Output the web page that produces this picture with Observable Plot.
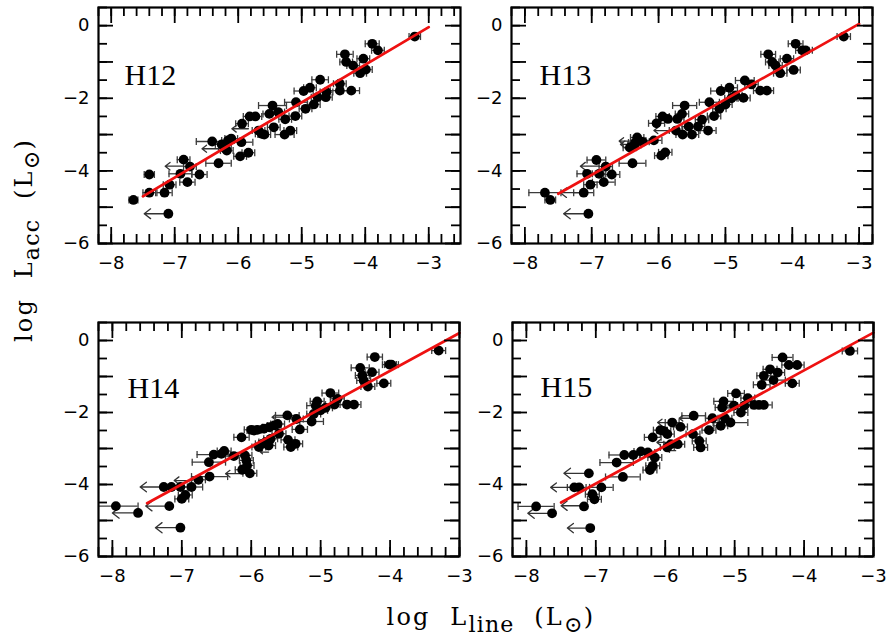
<!DOCTYPE html>
<html><head><meta charset="utf-8">
<script src="https://cdn.jsdelivr.net/npm/d3@7"></script>
<script src="https://cdn.jsdelivr.net/npm/@observablehq/plot@0.6"></script>
<style>
html,body{margin:0;padding:0;background:#fff;}
#wrap{position:relative;width:893px;height:637px;overflow:hidden;background:#fff;}
.panel{position:absolute;}
.ttl{position:absolute;font-family:'DejaVu Serif',serif;font-size:24px;white-space:pre;color:#000;letter-spacing:2.2px;line-height:1.5;padding:2px 4px;}
.ttl .sb{font-size:0.92em;position:relative;top:0.3em;letter-spacing:1.2px;}
</style></head><body><div id="wrap"></div>
<script>
// ---------- data ----------
const panelNames = ["H12", "H13", "H14", "H15"];
const fitX = [-7.5, -3];
const fitYH12 = [-4.70, -0.04];
const fitYH13 = [-4.63, 0.05];
const fitYH14 = [-4.52, 0.21];
const fitYH15 = [-4.50, 0.22];
const xTickLabels = [-8, -7, -6, -5, -4, -3];
const yTickLabels = [0, -2, -4, -6];
const yDomain = [-6, 0.5];
const xDomH12 = [-8.2, -2.5];
const xDomH13 = [-8.2, -2.8];
const xDomH14 = [-8.2, -3.0];
const xDomH15 = [-8.2, -3.0];

// H12: log Lline, log Lacc, x error (dex)
const h12X = [-7.65,-7.40,-7.40,-7.16,-7.08,-6.86,-6.91,-6.80,-6.76,-6.61,-6.41,-6.31,-6.26,-6.21,-6.16,-6.11,-6.18,-5.95,-5.97,-5.84,-5.94,-5.82,-5.73,-5.68,-5.63,-5.59,-5.46,-5.51,-5.44,-5.37,-5.26,-5.27,-5.18,-5.10,-5.09,-4.97,-4.94,-4.87,-4.81,-4.75,-4.71,-4.62,-4.61,-4.40,-4.40,-4.32,-4.30,-4.22,-4.19,-4.08,-4.03,-3.99,-3.89,-3.80,-3.22,-7.10];
const h12Y = [-4.80,-4.10,-4.60,-4.60,-4.38,-3.69,-4.08,-4.31,-3.88,-4.10,-3.19,-3.79,-3.27,-3.38,-3.16,-3.11,-3.44,-3.21,-3.60,-3.50,-2.70,-2.50,-2.50,-2.89,-2.98,-3.00,-2.20,-2.43,-2.80,-2.38,-2.58,-3.00,-2.89,-2.49,-2.11,-1.80,-2.29,-1.71,-2.17,-1.97,-1.49,-1.97,-1.83,-1.60,-1.79,-0.79,-1.00,-1.79,-1.10,-1.31,-0.91,-1.21,-0.50,-0.68,-0.30,-5.18];
const h12E = [0.07,0.08,0.10,0.12,0.10,0.10,0.18,0.12,0.10,0.12,0.25,0.20,0.10,0.10,0.10,0.10,0.10,0.18,0.10,0.10,0.10,0.10,0.10,0.10,0.10,0.10,0.22,0.10,0.10,0.10,0.10,0.15,0.10,0.10,0.18,0.15,0.10,0.10,0.10,0.10,0.13,0.10,0.10,0.10,0.15,0.13,0.10,0.13,0.10,0.10,0.10,0.10,0.11,0.10,0.09,0];
const h12LimX = [-7.10, -6.86, -6.30, -5.84];
const h12LimY = [-5.18, -3.87, -3.39, -2.84];
const h12LimLen = [0.38, 0.29, 0.27, 0.26];

// H13
const h13X = [-7.70,-7.62,-7.12,-7.05,-7.02,-6.93,-7.07,-6.89,-6.82,-6.79,-6.70,-6.39,-6.43,-6.35,-6.32,-6.24,-6.36,-6.07,-6.03,-5.96,-5.90,-5.94,-5.86,-5.72,-5.65,-5.61,-5.74,-5.64,-5.50,-5.55,-5.41,-5.35,-5.26,-5.24,-5.17,-5.09,-5.07,-4.94,-5.00,-4.91,-4.85,-4.71,-4.73,-4.61,-4.48,-4.38,-4.36,-4.30,-4.25,-4.18,-4.08,-3.98,-3.95,-3.85,-3.80,-3.23];
const h13Y = [-4.60,-4.80,-4.60,-5.18,-4.38,-3.70,-4.08,-4.08,-4.31,-3.88,-4.10,-3.79,-3.36,-3.22,-3.08,-3.20,-3.28,-3.16,-2.69,-3.58,-3.49,-2.50,-2.57,-2.57,-2.43,-2.20,-2.89,-3.00,-3.00,-2.78,-2.78,-2.59,-2.89,-2.11,-2.49,-2.29,-1.80,-1.71,-2.17,-2.00,-1.92,-1.51,-1.99,-1.62,-1.79,-1.79,-0.79,-1.00,-1.10,-1.31,-0.91,-1.22,-0.50,-0.68,-0.68,-0.30];
const h13E = [0.24,0.08,0.15,0,0.10,0.14,0.15,0.10,0.17,0.10,0.12,0.20,0.10,0.10,0.10,0.10,0.10,0.12,0.12,0.10,0.10,0.10,0.10,0.10,0.10,0.18,0.10,0.10,0.10,0.10,0.10,0.10,0.12,0.15,0.10,0.10,0.15,0.12,0.10,0.10,0.10,0.14,0.10,0.10,0.10,0.10,0.11,0.10,0.10,0.10,0.10,0.10,0.11,0.10,0.10,0.10];
const h13LimX = [-7.05, -7.12, -6.89, -6.34, -6.32, -5.85];
const h13LimY = [-5.18, -4.60, -3.87, -3.18, -3.27, -2.89];
const h13LimLen = [0.37, 0.35, 0.28, 0.25, 0.25, 0.22];

// H14
const h14X = [-7.95,-7.63,-7.18,-7.26,-7.02,-7.02,-7.15,-7.00,-6.95,-6.86,-6.76,-6.60,-6.61,-6.54,-6.43,-6.39,-6.25,-6.13,-6.09,-6.07,-6.06,-6.02,-6.14,-6.00,-5.96,-5.91,-5.82,-5.74,-5.67,-5.89,-5.84,-5.79,-5.75,-5.72,-5.62,-5.48,-5.60,-5.47,-5.43,-5.36,-5.35,-5.30,-5.13,-5.10,-5.05,-5.07,-5.00,-4.93,-4.86,-4.80,-4.76,-4.62,-4.52,-4.43,-4.40,-4.38,-4.32,-4.26,-4.22,-4.09,-4.01,-3.98,-3.30];
const h14Y = [-4.60,-4.79,-4.60,-4.07,-5.20,-4.07,-4.07,-4.40,-4.29,-4.07,-3.87,-3.78,-3.38,-3.17,-3.15,-3.07,-3.21,-3.59,-3.19,-3.33,-3.47,-3.69,-2.69,-2.48,-2.50,-2.48,-2.45,-2.41,-2.36,-2.96,-2.87,-2.82,-2.92,-2.73,-2.32,-2.08,-2.59,-2.76,-2.96,-2.87,-2.18,-2.47,-2.25,-2.04,-1.69,-1.81,-1.94,-1.87,-1.46,-1.78,-1.62,-1.78,-1.78,-0.76,-0.97,-1.11,-1.28,-0.88,-0.46,-1.19,-0.67,-0.67,-0.28];
const h14E = [0.32,0,0,0,0,0.10,0.10,0.10,0.10,0.16,0.10,0.26,0.24,0.24,0.10,0.10,0.12,0.10,0.10,0.10,0.10,0.10,0.11,0.10,0.10,0.10,0.10,0.10,0.10,0.10,0.10,0.10,0.10,0.10,0.10,0.17,0.10,0.10,0.10,0.10,0.10,0.11,0.17,0.10,0.10,0.13,0.10,0.10,0.12,0.13,0.10,0.10,0.10,0.13,0.10,0.10,0.10,0.10,0.11,0.10,0.10,0.10,0.10];
const h14LimX = [-7.63, -7.18, -7.26, -7.02, -6.85, -6.13, -5.55, -5.75];
const h14LimY = [-4.79, -4.60, -4.07, -5.20, -3.89, -3.70, -2.13, -3.10];
const h14LimLen = [0.37, 0.34, 0.34, 0.36, 0.26, 0.24, 0.15, 0.12];

// H15
const h15X = [-7.86,-7.63,-7.17,-7.08,-7.10,-7.31,-7.24,-7.05,-7.02,-6.92,-6.61,-6.70,-6.59,-6.46,-6.35,-6.22,-6.18,-6.15,-6.25,-6.18,-6.07,-6.02,-5.97,-5.97,-5.92,-5.82,-5.90,-5.78,-5.60,-5.59,-5.51,-5.49,-5.37,-5.32,-5.20,-5.14,-5.16,-5.18,-5.06,-5.01,-4.98,-4.91,-4.86,-4.81,-4.72,-4.65,-4.58,-4.61,-4.58,-4.49,-4.44,-4.38,-4.31,-4.22,-4.10,-4.17,-3.34];
const h15Y = [-4.61,-4.80,-4.61,-5.21,-3.69,-4.08,-4.08,-4.27,-4.41,-4.08,-3.79,-3.39,-3.18,-3.18,-3.08,-3.60,-3.48,-3.25,-3.11,-2.69,-2.49,-2.51,-2.60,-2.97,-2.88,-2.88,-2.28,-2.40,-2.60,-2.09,-2.79,-2.97,-2.49,-2.16,-2.37,-2.16,-1.69,-1.86,-2.28,-1.81,-1.47,-2.00,-1.81,-1.60,-1.79,-1.79,-1.79,-1.23,-0.98,-0.80,-1.10,-0.89,-0.47,-0.68,-0.68,-1.19,-0.29];
const h15E = [0.26,0,0,0,0,0.10,0.10,0.10,0.10,0.17,0.25,0.24,0.22,0.10,0.10,0.10,0.10,0.10,0.10,0.12,0.10,0.10,0.10,0.10,0.10,0.10,0.10,0.10,0.10,0.17,0.10,0.10,0.10,0.10,0.10,0.10,0.14,0.10,0.25,0.10,0.12,0.10,0.10,0.10,0.10,0.10,0.12,0.12,0.10,0.10,0.17,0.10,0.15,0.10,0.10,0.10,0.11];
const h15LimX = [-7.63, -7.17, -7.08, -7.10, -7.34, -5.87, -5.60, -5.92, -5.85];
const h15LimY = [-4.80, -4.59, -5.21, -3.69, -4.08, -2.28, -2.16, -2.83, -3.06];
const h15LimLen = [0.35, 0.33, 0.33, 0.36, 0.31, 0.24, 0.20, 0.20, 0.12];

// ---------- layout ----------
const layout = [
  {left: 0,   top: 0,   width: 470, height: 275, ml: 98, mr: 10, mt: 7,  mb: 32, dx: 26, dy: 56},
  {left: 470, top: 0,   width: 423, height: 275, ml: 41, mr: 21, mt: 7,  mb: 32, dx: 28, dy: 56},
  {left: 0,   top: 300, width: 470, height: 290, ml: 98, mr: 11, mt: 22, mb: 34, dx: 29, dy: 54},
  {left: 470, top: 300, width: 423, height: 290, ml: 42, mr: 20, mt: 22, mb: 34, dx: 28, dy: 53}
];

const panels = [
  {x: h12X, y: h12Y, e: h12E, limX: h12LimX, limY: h12LimY, limLen: h12LimLen, fit: fitYH12, xDom: xDomH12},
  {x: h13X, y: h13Y, e: h13E, limX: h13LimX, limY: h13LimY, limLen: h13LimLen, fit: fitYH13, xDom: xDomH13},
  {x: h14X, y: h14Y, e: h14E, limX: h14LimX, limY: h14LimY, limLen: h14LimLen, fit: fitYH14, xDom: xDomH14},
  {x: h15X, y: h15Y, e: h15E, limX: h15LimX, limY: h15LimY, limLen: h15LimLen, fit: fitYH15, xDom: xDomH15}
];

const capSymbol = {draw(ctx, size) { const h = Math.sqrt(size / Math.PI); ctx.moveTo(0, -h); ctx.lineTo(0, h); }};
const tickFont = "DejaVu Sans, sans-serif";
const errColor = "#3c3c3c";
const fmt = d3.format("d");
const within = (lo, hi) => v => v >= lo - 1e-9 && v <= hi + 1e-9;

function makePanel(p, L, name) {
  const pts = p.x.map((x, i) => ({x, y: p.y[i], e: p.e[i]}));
  const eb = pts.filter(d => d.e > 0);
  const caps = eb.flatMap(d => [{x: d.x - d.e, y: d.y}, {x: d.x + d.e, y: d.y}]);
  const lims = p.limX.map((x, i) => ({x, y: p.limY[i], xe: x - p.limLen[i]}));
  const fit = fitX.map((x, i) => ({x, y: p.fit[i]}));
  const [xa, xb] = p.xDom, [ya, yb] = yDomain;
  const inX = within(xa, xb), inY = within(ya, yb);
  const xLab = xTickLabels.filter(inX);
  const fw = L.width - L.ml - L.mr, fh = L.height - L.mt - L.mb;
  const kx = (xb - xa) / fw, ky = (yb - ya) / fh;   // data units per pixel
  // inward tick segments, built from tick values through the scales
  const xTickRows = [];
  [[d3.range(-45, -10).map(i => i / 5).filter(inX), 9], [d3.range(-9, -1).filter(inX), 16]].forEach(([vals, len]) => {
    vals.forEach(v => {
      xTickRows.push({x: v, y1: ya, y2: ya + len * ky});
      xTickRows.push({x: v, y1: yb, y2: yb - len * ky});
    });
  });
  const yTickRows = [];
  [[d3.range(-12, 2).map(i => i / 2).filter(inY), 9], [d3.range(-6, 1).filter(inY), 15]].forEach(([vals, len]) => {
    vals.forEach(v => {
      yTickRows.push({y: v, x1: xa, x2: xa + len * kx});
      yTickRows.push({y: v, x1: xb, x2: xb - len * kx});
    });
  });
  return Plot.plot({
    width: L.width, height: L.height,
    marginLeft: L.ml, marginRight: L.mr, marginTop: L.mt, marginBottom: L.mb,
    style: {background: "transparent", overflow: "visible"},
    x: {domain: p.xDom},
    y: {domain: yDomain},
    marks: [
      Plot.ruleY(eb, {y: "y", x1: d => d.x - d.e, x2: d => d.x + d.e, stroke: errColor, strokeWidth: 1.3, clip: true}),
      Plot.dot(caps, {x: "x", y: "y", symbol: capSymbol, r: 3.5, stroke: errColor, strokeWidth: 1.3, fill: "none", clip: true}),
      Plot.arrow(lims, {x1: "x", y1: "y", x2: "xe", y2: "y", stroke: "#333", strokeWidth: 1.3, headLength: 11, headAngle: 75}),
      Plot.dot(pts, {x: "x", y: "y", r: 4.9, fill: "black", stroke: "none"}),
      Plot.line(fit, {x: "x", y: "y", stroke: "#ee1111", strokeWidth: 2.7}),
      Plot.ruleX(xTickRows, {x: "x", y1: "y1", y2: "y2", stroke: "black", strokeWidth: 1.8}),
      Plot.ruleY(yTickRows, {y: "y", x1: "x1", x2: "x2", stroke: "black", strokeWidth: 1.8}),
      Plot.axisX({anchor: "bottom", ticks: xLab, tickSize: 0, tickPadding: 13, tickFormat: fmt, fontSize: 18, fontFamily: tickFont, fill: "black", label: null}),
      Plot.axisY({anchor: "left", ticks: yTickLabels, tickSize: 0, tickPadding: 9, tickFormat: fmt, fontSize: 18, fontFamily: tickFont, fill: "black", label: null}),
      Plot.frame({stroke: "black", strokeWidth: 2.2}),
      Plot.text([name], {text: d => d, frameAnchor: "top-left", dx: L.dx, dy: L.dy, textAnchor: "start", fontSize: 30, fontFamily: "Liberation Serif, serif", fill: "black"})
    ]
  });
}

const wrap = document.getElementById("wrap");
panels.forEach((p, i) => {
  const L = layout[i];
  const div = document.createElement("div");
  div.className = "panel";
  div.style.left = L.left + "px";
  div.style.top = L.top + "px";
  div.style.width = L.width + "px";
  div.style.height = L.height + "px";
  div.appendChild(makePanel(p, L, panelNames[i]));
  wrap.appendChild(div);
});

// axis titles
const xt = document.createElement("div");
xt.className = "ttl";
xt.innerHTML = "log  L<span class='sb'>line</span>  (L<span class='sb'>⊙</span>)";
wrap.appendChild(xt);
xt.style.left = (491 - xt.offsetWidth / 2) + "px";
xt.style.top = (617 - xt.offsetHeight / 2) + "px";

const yt = document.createElement("div");
yt.className = "ttl";
yt.innerHTML = "log  L<span class='sb'>acc</span>  (L<span class='sb'>⊙</span>)";
wrap.appendChild(yt);
yt.style.left = (24 - yt.offsetWidth / 2) + "px";
yt.style.top = (240 - yt.offsetHeight / 2) + "px";
yt.style.transform = "rotate(-90deg)";
</script>
</body></html>
